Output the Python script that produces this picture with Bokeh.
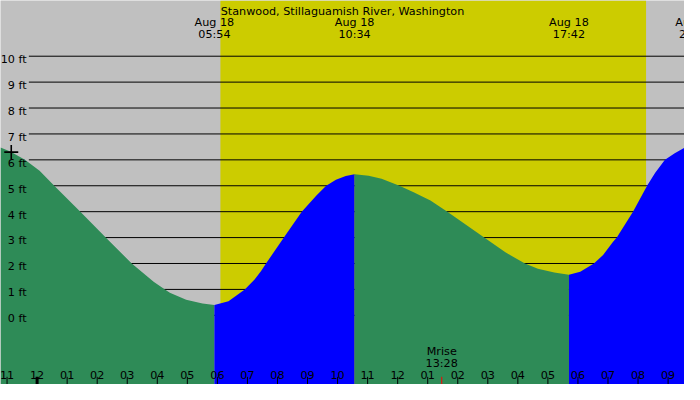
from bokeh.plotting import figure
from bokeh.models import Range1d
from bokeh.core.properties import value
from bokeh.embed import file_html
from bokeh.resources import INLINE

# 1. Data (hours from midnight Aug 18, negative = Aug 17; heights in ft)
title = "Stanwood, Stillaguamish River, Washington"

tide_hours = [-1.218, -0.893, -0.405, 0.083, 0.571, 1.439, 2.285, 3.150, 3.878, 4.255, 4.418,
              4.961, 5.504, 5.900,
              6.369, 6.912, 7.238, 7.455, 7.618, 8.213, 8.808, 9.296, 9.621, 9.946, 10.271, 10.567,
              11.033, 11.465, 12.060, 12.548, 13.091, 13.654, 14.880, 15.585, 16.236, 16.668,
              17.211, 17.700,
              18.076, 18.532, 18.837, 19.163, 19.293, 19.832, 20.301, 20.571, 20.896, 21.221, 21.546]
tide_ft = [6.48, 6.32, 6.00, 5.58, 5.00, 4.00, 3.00, 2.00, 1.30, 1.00, 0.87,
           0.60, 0.46, 0.40,
           0.54, 1.00, 1.38, 1.71, 2.00, 3.00, 4.00, 4.62, 5.00, 5.23, 5.38, 5.44,
           5.39, 5.27, 5.00, 4.74, 4.43, 4.00, 3.00, 2.43, 2.00, 1.80,
           1.65, 1.57,
           1.68, 2.00, 2.33, 2.83, 3.00, 4.00, 5.00, 5.50, 6.00, 6.25, 6.47]

# tide extremes shown at the top (low, high, low, high)
event_dates = ["Aug 18", "Aug 18", "Aug 18", "Aug 18"]
event_times = ["05:54", "10:34", "17:42", "21:54"]

sunrise, sunset = "06:06", "20:16"
moonrise = "13:28"

height_ticks = list(range(0, 11))
hour_ticks = list(range(-1, 22))

marker_hours = [-0.86]
marker_ft = [6.3]

FALL, RISE = "#2E8B57", "#0000FF"
NIGHT, DAY = "#C0C0C0", "#CCCC00"
FONT = value("DejaVu Sans")


def to_hours(s):
    h, m = s.split(":")
    return int(h) + int(m) / 60.0


event_hours = [to_hours(t) for t in event_times]

# 2. Figure geometry
W, H = 684, 384
hour_lo, hour_hi = -1.218, 21.546
ft_lo, ft_hi = -2.67, 12.15
sx, sy = W / 700, H / 400
hr_px = (hour_hi - hour_lo) / W
ft_px = (ft_hi - ft_lo) / H
fs = "%.1fpx" % (11.5 * sx)

p = figure(width=W, height=H, x_range=Range1d(hour_lo, hour_hi), y_range=Range1d(ft_lo, ft_hi),
           output_backend="svg", toolbar_location=None, x_axis_location=None, y_axis_location=None,
           min_border=0, title=None)
p.grid.visible = False
p.outline_line_color = None
p.background_fill_color = NIGHT
p.border_fill_color = NIGHT

# daylight
p.quad(left=[to_hours(sunrise)], right=[to_hours(sunset)], bottom=[ft_lo], top=[ft_hi],
       fill_color=DAY, line_color=None)

# height grid lines
grid_x0 = hour_lo + 29 * sx * hr_px
p.segment(x0=[grid_x0] * len(height_ticks), x1=[hour_hi] * len(height_ticks),
          y0=height_ticks, y1=height_ticks, line_color="black", line_width=1)


# 3. Tide areas, split at the extremes
def nearest(h):
    return min(range(len(tide_hours)), key=lambda i: abs(tide_hours[i] - h))


cuts = [nearest(h) for h in event_hours[:3]]
bounds = [0] + cuts + [len(tide_hours) - 1]
colors = [FALL, RISE, FALL, RISE]
for i in range(4):
    a, b = bounds[i], bounds[i + 1]
    xs = tide_hours[a:b + 1]
    ys = tide_ft[a:b + 1]
    p.varea(x=xs, y1=[ft_lo] * len(xs), y2=ys, fill_color=colors[i])

p.scatter(marker_hours, marker_ft, marker="cross", size=14, line_color="black", line_width=1.6)

# 4. Labels
p.text(x=[hour_lo] * len(height_ticks), y=height_ticks, text=["%d ft" % v for v in height_ticks],
       x_offset=26.7 * sx, y_offset=3.5 * sy, text_align="right", text_baseline="alphabetic",
       text_font=FONT, text_font_size=fs, text_color="black")

p.text(x=[(hour_lo + hour_hi) / 2], y=[ft_hi], text=[title], y_offset=11.7 * sy,
       text_align="center", text_baseline="alphabetic", text_font=FONT, text_font_size=fs,
       text_color="black")
p.text(x=event_hours, y=[ft_hi] * 4, text=event_dates, y_offset=23.3 * sy,
       text_align="center", text_baseline="alphabetic", text_font=FONT, text_font_size=fs,
       text_color="black")
p.text(x=event_hours, y=[ft_hi] * 4, text=event_times, y_offset=35 * sy,
       text_align="center", text_baseline="alphabetic", text_font=FONT, text_font_size=fs,
       text_color="black")

# hour ticks along the bottom
tick_top = ft_lo + 8 * sy * ft_px
hour_labels = ["%02d" % ((h % 12) or 12) for h in hour_ticks]
widths = [3 if h % 24 == 0 else 1 for h in hour_ticks]
p.segment(x0=hour_ticks, x1=hour_ticks, y0=[ft_lo] * len(hour_ticks), y1=[tick_top] * len(hour_ticks),
          line_color="black", line_width=widths)
p.text(x=hour_ticks, y=[ft_lo] * len(hour_ticks), text=hour_labels, y_offset=-10 * sy,
       text_align="center", text_baseline="alphabetic", text_font=FONT, text_font_size=fs,
       text_color="black")

# moonrise
mr = to_hours(moonrise)
p.segment(x0=[mr], x1=[mr], y0=[ft_lo], y1=[tick_top], line_color="red", line_width=1)
p.text(x=[mr, mr], y=[ft_lo, ft_lo], text=["Mrise", moonrise], y_offset=[-34 * sy, -22.3 * sy],
       text_align="center", text_baseline="alphabetic", text_font=FONT, text_font_size=fs,
       text_color="black")

open("out.html", "w").write(file_html(p, INLINE))
